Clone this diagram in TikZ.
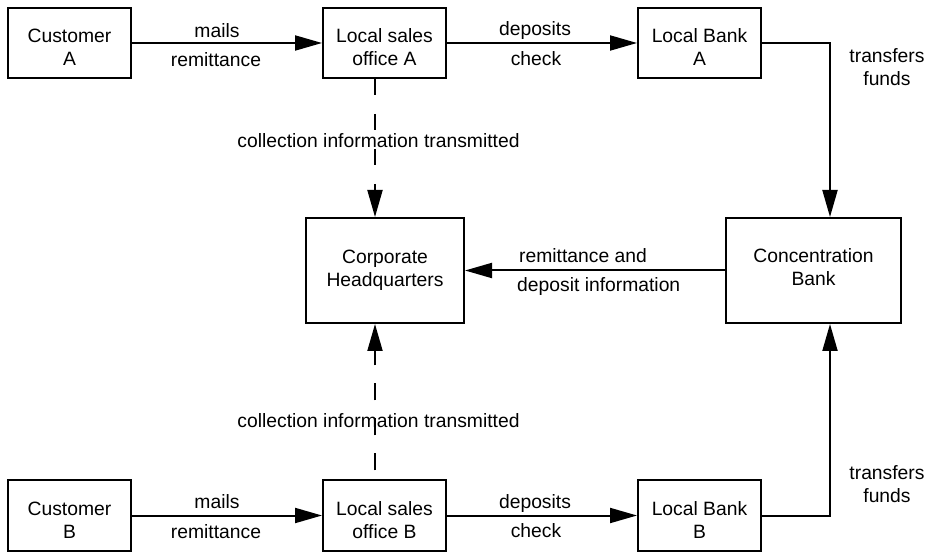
\documentclass[tikz,border=0pt]{standalone}
\usepackage{fontspec}
\setmainfont{Liberation Sans}
\usetikzlibrary{arrows.meta}
\begin{document}
\begin{tikzpicture}[x=1pt,y=-1pt,
  font=\fontsize{19.3}{23}\selectfont,
  box/.style={draw, line width=2pt, rectangle, inner sep=0pt, align=center,
              minimum width=123pt, minimum height=70pt},
  bigbox/.style={box, minimum height=105pt},
  lbl/.style={inner sep=0pt, anchor=base},
  conn/.style={line width=2pt, -{Triangle[length=27pt,width=15pt]}},
  dashA/.style={dash pattern=on 16pt off 19pt},
  dashB/.style={dash pattern=on 17pt off 18pt, dash phase=26pt}]
\useasboundingbox (0,0) rectangle (930,553);

% boxes
\node[box] (custA) at (69.5,43) {\rule{0pt}{23pt}Customer\\A};
\node[box] (offA) at (384.5,43) {\rule{0pt}{23pt}Local sales\\office A};
\node[box] (bankA) at (699.5,43) {\rule{0pt}{23pt}Local Bank\\A};
\node[bigbox, minimum width=158pt] (hq) at (385,270.5) {Corporate\\Headquarters};
\node[bigbox, minimum width=175pt] (conc) at (813.5,270.5) {Concentration\\Bank\rule[-6pt]{0pt}{0pt}};
\node[box] (custB) at (69.5,515.5) {\rule{0pt}{23pt}Customer\\B};
\node[box] (offB) at (384.5,515.5) {\rule{0pt}{23pt}Local sales\\office B};
\node[box] (bankB) at (699.5,515.5) {\rule{0pt}{23pt}Local Bank\\B};

% connectors
\draw[conn] (custA) -- (offA);
\draw[conn] (offA) -- (bankA);
\draw[conn] (bankA.east) -| ([xshift=16.5pt]conc.north);
\draw[conn] (conc) -- (hq);
\draw[conn] (bankB.east) -| ([xshift=16.5pt]conc.south);
\draw[conn] (custB) -- (offB);
\draw[conn] (offB) -- (bankB);
\draw[conn, dashA] ([xshift=-9.5pt]offA.south) -- ([xshift=-10pt]hq.north);
\draw[conn, dashB] ([xshift=-9.5pt]offB.north) -- ([xshift=-10pt]hq.south);

% labels
\node[lbl] (mailsA) at (217,38) {mails};
\node[lbl] (remitA) at (216,67) {remittance};
\node[lbl] (depA) at (535,36) {deposits};
\node[lbl] (checkA) at (536,66) {check};
\node[align=center, inner sep=0pt] (trA) at (887,67.5) {transfers\\funds};
\node[lbl] (collA) at (378.5,148) {collection information transmitted};
\node[lbl, anchor=base west] (rdA) at (519,263) {remittance and};
\node[lbl, anchor=base west] (rdB) at (517,292) {deposit information};
\node[lbl] (collB) at (378.5,428) {collection information transmitted};
\node[align=center, inner sep=0pt] (trB) at (887,484.5) {transfers\\funds};
\node[lbl] (mailsB) at (217,508) {mails};
\node[lbl] (remitB) at (216,538) {remittance};
\node[lbl] (depB) at (535,508) {deposits};
\node[lbl] (checkB) at (536,537) {check};
\end{tikzpicture}
\end{document}
